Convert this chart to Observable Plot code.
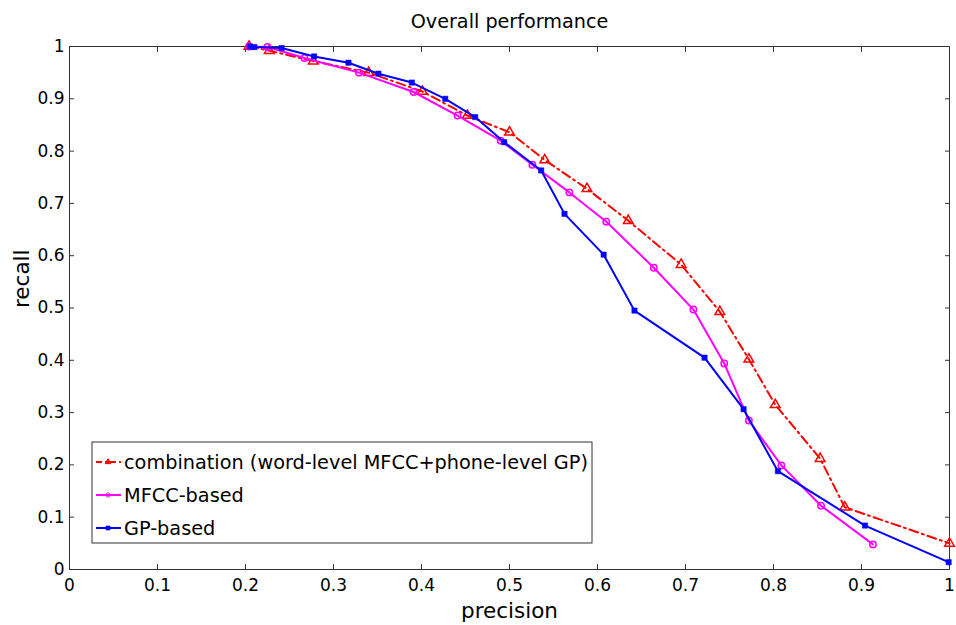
<!DOCTYPE html>
<html>
<head>
<meta charset="utf-8">
<script src="https://cdn.jsdelivr.net/npm/d3@7"></script>
<script src="https://cdn.jsdelivr.net/npm/@observablehq/plot@0.6"></script>
<style>
  html, body { margin: 0; padding: 0; background: #fff; }
  #chart svg { display: block; }
</style>
</head>
<body>
<div id="chart"></div>
<script>
const titleText = "Overall performance";
const xLabel = "precision";
const yLabel = "recall";
const tickValues = [0, 0.1, 0.2, 0.3, 0.4, 0.5, 0.6, 0.7, 0.8, 0.9, 1];

const seriesNames = [
  "combination (word-level MFCC+phone-level GP)",
  "MFCC-based",
  "GP-based"
];

const comboPrecision = [0.204, 0.227, 0.277, 0.340, 0.401, 0.452, 0.500, 0.540, 0.588, 0.635, 0.695, 0.739, 0.772, 0.802, 0.853, 0.881, 1.0];
const comboRecall    = [1.000, 0.992, 0.972, 0.950, 0.914, 0.868, 0.836, 0.783, 0.728, 0.667, 0.583, 0.493, 0.402, 0.315, 0.212, 0.119, 0.050];

const mfccPrecision = [0.204, 0.225, 0.267, 0.329, 0.391, 0.441, 0.490, 0.526, 0.568, 0.610, 0.664, 0.709, 0.744, 0.772, 0.809, 0.854, 0.913];
const mfccRecall    = [1.000, 0.999, 0.978, 0.950, 0.913, 0.868, 0.820, 0.774, 0.721, 0.665, 0.577, 0.497, 0.394, 0.285, 0.199, 0.122, 0.048];

const gpPrecision = [0.205, 0.210, 0.241, 0.278, 0.317, 0.351, 0.389, 0.427, 0.461, 0.494, 0.536, 0.5625, 0.607, 0.642, 0.7216, 0.766, 0.805, 0.904, 0.999];
const gpRecall    = [1.000, 0.999, 0.997, 0.981, 0.969, 0.948, 0.931, 0.900, 0.865, 0.817, 0.763, 0.680, 0.602, 0.495, 0.405, 0.3065, 0.188, 0.084, 0.014];

const combo = comboPrecision.map((p, i) => ({precision: p, recall: comboRecall[i]}));
const mfcc = mfccPrecision.map((p, i) => ({precision: p, recall: mfccRecall[i]}));
const gp = gpPrecision.map((p, i) => ({precision: p, recall: gpRecall[i]}));

const fmt = d => String(+d.toFixed(1));
const font = "'DejaVu Sans', Verdana, sans-serif";
const axisColor = "#333";

const chart = Plot.plot({
  width: 956,
  height: 625,
  marginLeft: 69,
  marginRight: 7,
  marginTop: 46,
  marginBottom: 56,
  style: {fontFamily: font, fontSize: "17px", color: "#000", background: "#fff"},
  x: {domain: [0, 1]},
  y: {domain: [0, 1]},
  marks: [
    Plot.frame({stroke: axisColor, strokeWidth: 1}),
    // tick labels
    Plot.axisX({ticks: tickValues, tickFormat: fmt, tickSize: 0, tickPadding: 9, label: null, fontSize: 17}),
    Plot.axisY({ticks: tickValues, tickFormat: fmt, tickSize: 0, tickPadding: 5, label: null, fontSize: 17}),
    // inward ticks on all sides
    Plot.axisX({ticks: tickValues, tickSize: -5, text: null, label: null, stroke: axisColor}),
    Plot.axisX({anchor: "top", ticks: tickValues, tickSize: -5, text: null, label: null, stroke: axisColor}),
    Plot.axisY({ticks: tickValues, tickSize: -5, text: null, label: null, stroke: axisColor}),
    Plot.axisY({anchor: "right", ticks: tickValues, tickSize: -5, text: null, label: null, stroke: axisColor}),
    // series
    Plot.line(combo, {x: "precision", y: "recall", stroke: "#ff0000", strokeWidth: 2, strokeDasharray: "9,4,2,4"}),
    Plot.dot(combo, {x: "precision", y: "recall", symbol: "triangle", stroke: "#ff0000", fill: "none", r: 3.6, strokeWidth: 1.5}),
    Plot.line(mfcc, {x: "precision", y: "recall", stroke: "#ff00ff", strokeWidth: 2}),
    Plot.dot(mfcc, {x: "precision", y: "recall", symbol: "circle", stroke: "#ff00ff", fill: "none", r: 3.2, strokeWidth: 1.5}),
    Plot.line(gp, {x: "precision", y: "recall", stroke: "#0000ff", strokeWidth: 2}),
    Plot.dot(gp, {x: "precision", y: "recall", symbol: "square", fill: "#0000ff", stroke: "#0000ff", r: 3, strokeWidth: 0.5}),
    // title & labels
    Plot.text([titleText], {frameAnchor: "top", dy: -32, fontSize: 19.2, fill: "#000"}),
    Plot.text([xLabel], {frameAnchor: "bottom", dy: 48, fontSize: 21.5, fill: "#000"}),
    Plot.text([yLabel], {frameAnchor: "left", dx: -47, rotate: -90, fontSize: 21.5, fill: "#000"})
  ]
});

document.getElementById("chart").appendChild(chart);

// legend drawn into the svg, inside the plot area
const svg = d3.select(chart);
const lg = svg.append("g").attr("font-family", font).attr("font-size", 19.3).attr("text-anchor", "start");
const bx = 92, by = 442, bw = 500, bh = 101;
lg.append("rect").attr("x", bx).attr("y", by).attr("width", bw).attr("height", bh)
  .attr("fill", "#fff").attr("stroke", axisColor).attr("stroke-width", 1);
const styles = [
  {color: "#ff0000", dash: "6,3,2,3", sym: d3.symbolTriangle, fill: "#ff0000"},
  {color: "#ff00ff", dash: null, sym: d3.symbolCircle, fill: "none"},
  {color: "#0000ff", dash: null, sym: d3.symbolSquare, fill: "#0000ff"}
];
seriesNames.forEach((name, i) => {
  const y = by + 20 + i * 33;
  const s = styles[i];
  const ln = lg.append("line").attr("x1", bx + 4).attr("x2", bx + 29).attr("y1", y).attr("y2", y)
    .attr("stroke", s.color).attr("stroke-width", 2);
  if (s.dash) ln.attr("stroke-dasharray", s.dash);
  lg.append("path").attr("d", d3.symbol(s.sym, 14)())
    .attr("transform", `translate(${bx + 16},${y})`)
    .attr("fill", s.fill).attr("stroke", s.color).attr("stroke-width", 1);
  lg.append("text").attr("x", bx + 32).attr("y", y).attr("dy", "0.36em").attr("fill", "#000").text(name);
});
</script>
</body>
</html>
